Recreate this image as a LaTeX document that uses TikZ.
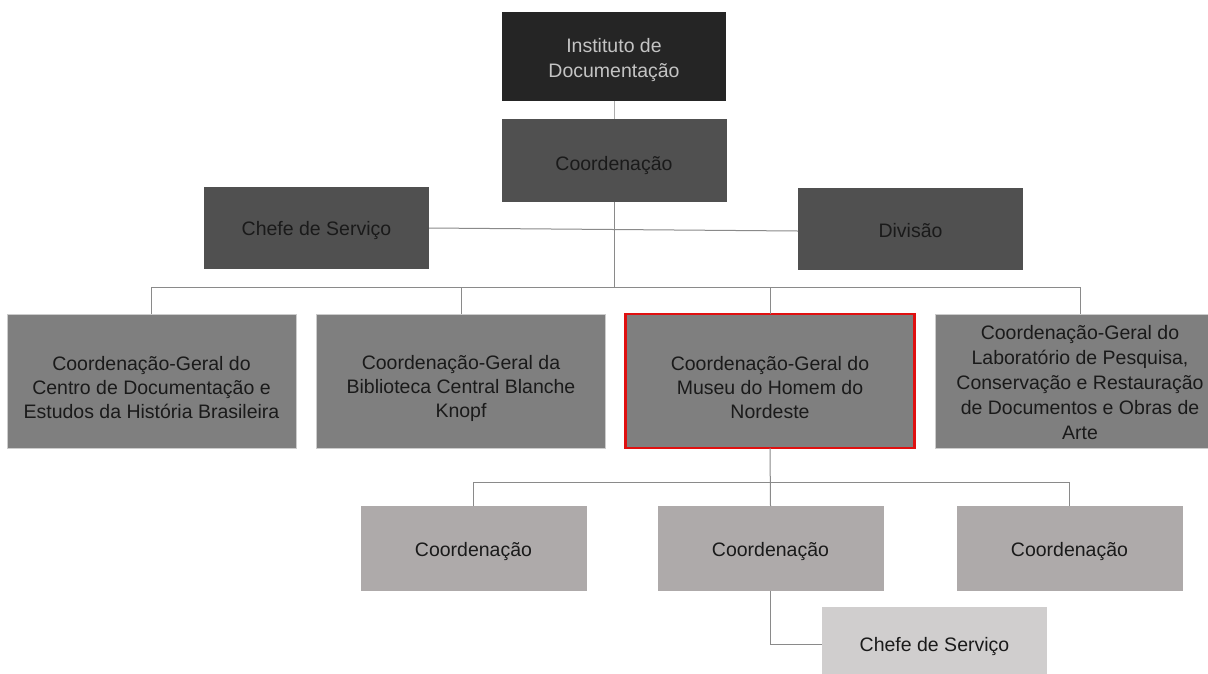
\documentclass[tikz,border=0pt]{standalone}
\usepackage{fontspec}
\setmainfont{Liberation Sans}
\definecolor{cinst}{HTML}{252525}
\definecolor{cdark}{HTML}{505050}
\definecolor{cmid}{HTML}{7F7F7F}
\definecolor{clight}{HTML}{AEAAAA}
\definecolor{cpale}{HTML}{D0CECE}
\definecolor{ctxt}{HTML}{1A1A1A}
\definecolor{cinsttxt}{HTML}{C4C4C4}
\definecolor{cline}{HTML}{8A8A8A}
\definecolor{cred}{HTML}{E01010}
\begin{document}
\begin{tikzpicture}[x=1pt,y=-1pt,
  box/.style={rectangle, inner sep=0pt, outer sep=0pt},
  lbl/.style={inner sep=0pt, align=center, text=ctxt,
    font=\fontsize{19.5}{24}\selectfont},
  darkbox/.style={box, fill=cdark, minimum width=225pt, minimum height=83pt},
  midbox/.style={box, fill=cmid, draw=white!80!black, line width=0.6pt, minimum width=289pt, minimum height=134pt},
  lightbox/.style={box, fill=clight, minimum width=226pt, minimum height=85pt},
  conn/.style={draw=cline, line width=1pt}]
\useasboundingbox (0,0) rectangle (1208,673);
\fill[white] (0,0) rectangle (1208,673);

\node[box, fill=cinst, minimum width=224pt, minimum height=89pt,
  label={[lbl, text=cinsttxt, font=\fontsize{19.5}{25}\selectfont, yshift=-3.5pt]center:{Instituto de\\Documentação}}] (inst) at (614,56.5) {};
\node[darkbox, label={[lbl, yshift=-5pt]center:Coordenação}] (coord) at (614,160.5) {};
\node[darkbox, minimum height=82pt, label={[lbl, yshift=-2pt]center:Chefe de Serviço}] (chefe) at (316.5,228) {};
\node[darkbox, minimum height=82pt, label={[lbl, yshift=-2pt]center:Divisão}] (div) at (910.5,229) {};

\node[midbox, label={[lbl, yshift=-7pt]center:{Coordenação-Geral do\\Centro de Documentação e\\Estudos da História Brasileira}}] (g1) at (151.5,381) {};
\node[midbox, label={[lbl, yshift=-7pt]center:{Coordenação-Geral da\\Biblioteca Central Blanche\\Knopf}}] (g2) at (461,381) {};
\node[midbox, draw=cred, line width=2.2pt, label={[lbl, yshift=-7pt]center:{Coordenação-Geral do\\Museu do Homem do\\Nordeste}}] (g3) at (770,381) {};
\node[midbox, label={[lbl, font=\fontsize{19.5}{25}\selectfont, yshift=-1.5pt]center:{Coordenação-Geral do\\Laboratório de Pesquisa,\\Conservação e Restauração\\de Documentos e Obras de\\Arte}}] (g4) at (1080,381) {};

\node[lightbox, label={[lbl, yshift=-3pt]center:Coordenação}] (c1) at (473.5,548.5) {};
\node[lightbox, label={[lbl, yshift=-3pt]center:Coordenação}] (c2) at (770.5,548.5) {};
\node[lightbox, label={[lbl, yshift=-3pt]center:Coordenação}] (c3) at (1069.5,548.5) {};
\node[box, fill=cpale, minimum width=225pt, minimum height=74pt,
  label={[lbl, yshift=-2pt]center:Chefe de Serviço}] (ch) at (934.5,644) {};

\coordinate (bus1) at (614,287);
\coordinate (bus2) at (770,482);

\draw[conn, draw=cline!70] (inst.south) -- (coord.north);
\draw[conn] (coord.south) -- (bus1);
\draw[conn] (chefe.east) -- ([yshift=-2pt]div.west);
\draw[conn] (g1.north) -- (g1.north |- bus1) -- (g4.north |- bus1) -- (g4.north);
\draw[conn] (g2.north) -- (g2.north |- bus1);
\draw[conn] (g3.north) -- (g3.north |- bus1);
\draw[conn] (g3.south) -- (c2.north);
\draw[conn] (c1.north) -- (c1.north |- bus2) -- (c3.north |- bus2) -- (c3.north);
\draw[conn] (c2.south) -- (c2.south |- ch.west) -- (ch.west);
\end{tikzpicture}
\end{document}
